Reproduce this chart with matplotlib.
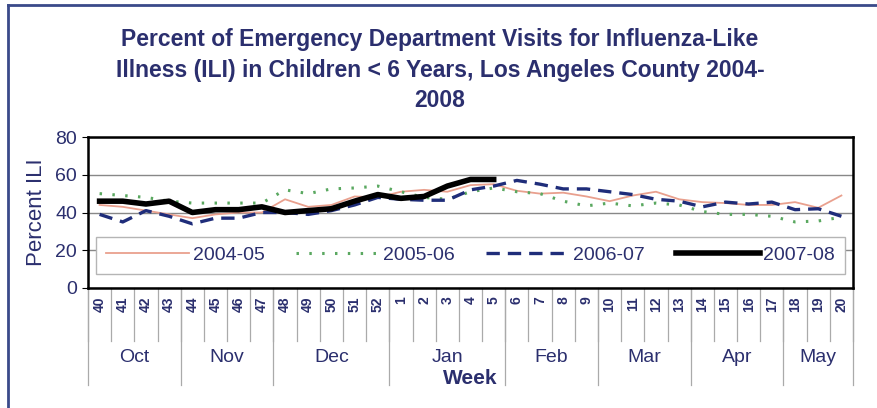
import matplotlib
matplotlib.use("Agg")
import matplotlib.pyplot as plt
from matplotlib.lines import Line2D

plt.rcParams['font.family'] = ['Liberation Sans', 'DejaVu Sans']

# week numbers of the flu season, Oct .. May
weeks = [40, 41, 42, 43, 44, 45, 46, 47, 48, 49, 50, 51, 52,
         1, 2, 3, 4, 5, 6, 7, 8, 9, 10, 11, 12, 13, 14, 15, 16, 17, 18, 19, 20]
months = ['Oct', 'Nov', 'Dec', 'Jan', 'Feb', 'Mar', 'Apr', 'May']
weeks_per_month = [4, 4, 5, 5, 4, 4, 4, 3]

# percent ILI per week
ili_2004_05 = [44, 43, 41, 39, 37, 39, 40, 40, 47, 43, 44, 48.5, 48,
               51, 52, 51, 54.5, 55, 51.5, 50, 50.5, 48.5, 46, 49, 51, 47,
               45.5, 45, 44, 44, 45.5, 42.5, 49]
ili_2005_06 = [50, 49, 48, 46, 45, 45, 45, 45, 52, 50, 52.5, 53, 54,
               51, 48, 47, 51, 53, 51, 50, 46, 43.5, 45, 43.5, 45, 44,
               40.5, 39, 39, 38, 35, 35.5, 37.5]
ili_2006_07 = [39, 35, 41, 38, 34, 37, 37, 40, 40, 39, 41, 44, 48,
               47, 46.5, 46.5, 52, 54, 57, 55, 52.5, 52.5, 51, 49.5, 47, 46,
               43, 45.5, 44.5, 45.5, 41.5, 42, 38]
ili_2007_08 = [46, 46, 44.5, 46, 40, 41.5, 41.5, 43, 40, 41, 42, 46, 49.5,
               47.5, 48.5, 54, 57.5, 57.5]

navy = '#2b2f6e'

fig = plt.figure(figsize=(8.78, 4.08), dpi=100)
fig.patch.set_facecolor('white')

# outer frame of the scanned chart
fig.add_artist(Line2D([8 / 878, 8 / 878], [0, 1 - 5 / 408], color='#3a4a8a', lw=2))
fig.add_artist(Line2D([8 / 878, 1], [1 - 5 / 408, 1 - 5 / 408], color='#3a4a8a', lw=2))

ax = fig.add_axes([88 / 878, 1 - 288 / 408, 765 / 878, 151 / 408])

x = list(range(len(weeks)))
ax.plot(x, ili_2004_05, color='#e9a08e', lw=1.3, label='2004-05', zorder=3)
ax.plot(x, ili_2005_06, color='#5aa860', lw=2.2, dashes=(0.8, 3.4), label='2005-06', zorder=3)
ax.plot(x, ili_2006_07, color='#1f2d7a', lw=2.4, dashes=(4, 2.4), label='2006-07', zorder=4)
ax.plot(x[:len(ili_2007_08)], ili_2007_08, color='black', lw=4, label='2007-08', zorder=5)

ax.set_xlim(-0.5, len(weeks) - 0.5)
ax.set_ylim(0, 80)
ax.set_yticks([0, 20, 40, 60, 80])
ax.yaxis.grid(True, color='#888888', lw=1)
ax.set_axisbelow(True)
for s in ax.spines.values():
    s.set_linewidth(1.8)
    s.set_color('black')
ax.tick_params(axis='y', labelsize=14, labelcolor=navy, length=4, pad=4)

# week labels (first level of the category axis)
ax.set_xticks(x)
ax.set_xticklabels([str(w) for w in weeks], rotation=90, fontsize=10,
                   fontweight='bold', color=navy)
ax.tick_params(axis='x', length=0, pad=6)

# separators of the multi-level category axis
trans = ax.get_xaxis_transform()
for i in range(len(weeks) + 1):
    ax.plot([i - 0.5, i - 0.5], [0, -0.35], color='#aaaaaa', lw=0.9,
            transform=trans, clip_on=False)
start = 0
bounds = [0]
for n in weeks_per_month:
    start += n
    bounds.append(start)
for b in bounds:
    ax.plot([b - 0.5, b - 0.5], [0, -0.64], color='#aaaaaa', lw=0.9,
            transform=trans, clip_on=False)
for m, a, b in zip(months, bounds[:-1], bounds[1:]):
    ax.text((a + b - 1) / 2, -0.46, m, transform=trans, ha='center', va='center',
            fontsize=14, color=navy)

ax.set_ylabel('Percent ILI', fontsize=16, color=navy, labelpad=6)
fig.text(470 / 878, 1 - 378 / 408, 'Week', ha='center', va='center',
         fontsize=15, fontweight='bold', color=navy)

leg = ax.legend(loc='lower left', bbox_to_anchor=(0.0105, 0.093, 0.979, 0.297),
                mode='expand', ncol=4, fontsize=14, handlelength=4.3,
                handletextpad=0.2, borderaxespad=0, borderpad=0.5, fancybox=False,
                frameon=True, labelcolor=navy)
leg.get_frame().set_edgecolor('#b5b5b5')
leg.get_frame().set_linewidth(1)
leg.get_frame().set_alpha(1)

fig.text(440 / 878, 1 - 70 / 408,
         'Percent of Emergency Department Visits for Influenza-Like\n'
         'Illness (ILI) in Children < 6 Years, Los Angeles County 2004-\n'
         '2008',
         ha='center', va='center', fontsize=16.5, fontweight='bold', color=navy,
         linespacing=1.4)

fig.savefig('out.png', dpi=100)
